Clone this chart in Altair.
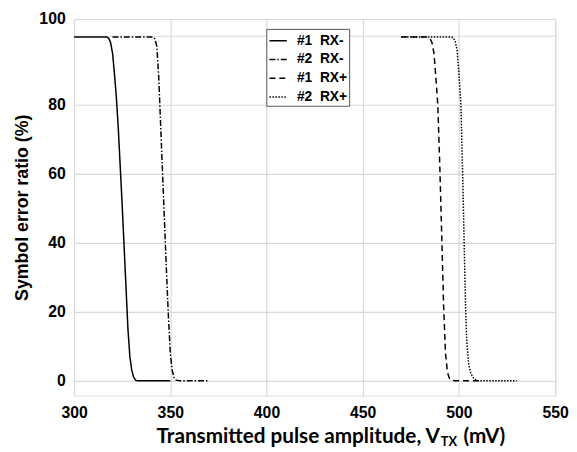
import altair as alt
import pandas as pd

PAD = "\u00a0\u00a0\u00a0"
S1 = "#1\u00a0\u00a0RX-" + PAD
S2 = "#2\u00a0\u00a0RX-" + PAD
S3 = "#1\u00a0\u00a0RX+" + PAD
S4 = "#2\u00a0\u00a0RX+" + PAD

x_rx1_minus = [300, 317, 318, 319, 320, 321, 322, 323, 324, 325, 326, 327, 328, 329, 330, 331, 332, 333, 350]
y_rx1_minus = [99.7, 99.7, 99.3, 98, 95, 89, 82, 73, 62, 51, 39, 27, 15, 7, 3, 1, 0.2, 0, 0]

x_rx2_minus = [320, 341, 342, 343, 344, 345, 346, 347, 348, 349, 350, 351, 352, 353, 355, 370]
y_rx2_minus = [99.7, 99.7, 99.2, 97, 88, 74, 60, 46, 32, 19, 8, 3, 0.8, 0.2, 0, 0]

x_rx1_plus = [470, 483, 485, 486, 487, 488, 489, 490, 491, 492, 493, 494, 495, 496, 498, 510]
y_rx1_plus = [99.7, 99.7, 99.2, 98, 95, 88, 80, 63, 43, 22, 8, 2.5, 0.8, 0.2, 0, 0]

x_rx2_plus = [470, 496, 497, 498, 499, 500, 501, 502, 503, 503.5, 504, 505, 506, 507, 508, 510, 530]
y_rx2_plus = [99.7, 99.7, 99.5, 98.5, 96, 89, 80, 58, 32, 20, 12, 5, 2.5, 1.2, 0.5, 0, 0]

series_order = [S1, S2, S3, S4]
dashes = [[1, 0], [6, 2, 1.5, 2], [6, 4], [1.5, 1.5]]

rows = []
for name, xs, ys in [(S1, x_rx1_minus, y_rx1_minus), (S2, x_rx2_minus, y_rx2_minus),
                     (S3, x_rx1_plus, y_rx1_plus), (S4, x_rx2_plus, y_rx2_plus)]:
    for a, b in zip(xs, ys):
        rows.append({"v": a, "ser": b, "series": name})
df = pd.DataFrame(rows)

y_ticks = [0, 20, 40, 60, 80, 100, 104.9]

lines = alt.Chart(df).mark_line(color="black", strokeWidth=1.5, clip=True).encode(
    x=alt.X("v:Q", scale=alt.Scale(domain=[300, 550], nice=False, zero=False),
            axis=alt.Axis(values=[300, 350, 400, 450, 500, 550], title=None, ticks=False,
                          labelPadding=9, labelFont="Liberation Sans", labelFontWeight="bold",
                          labelFontSize=16, labelColor="black", gridColor="#d9d9d9",
                          gridWidth=1.2, domain=False, labelFlush=False)),
    y=alt.Y("ser:Q", scale=alt.Scale(domain=[-4.3, 104.9], nice=False, zero=False),
            axis=alt.Axis(values=y_ticks, title="Symbol error ratio (%)", ticks=False,
                          labelExpr="datum.value > 101 ? '100' : (datum.value == 100 ? '' : datum.label)",
                          labelPadding=9, labelFont="Liberation Sans", labelFontWeight="bold",
                          labelFontSize=16, labelColor="black", gridColor="#d9d9d9",
                          gridWidth=1.2,
                          titleFont="Liberation Sans", titleFontWeight="bold", titleFontSize=18,
                          titleColor="black", titlePadding=8, domain=False, labelFlush=False)),
    strokeDash=alt.StrokeDash("series:N",
                              scale=alt.Scale(domain=series_order, range=dashes),
                              sort=series_order,
                              legend=alt.Legend(title=None, orient="none", legendX=195, legendY=10,
                                                symbolType="stroke", symbolSize=310,
                                                symbolStrokeWidth=1.5, symbolStrokeColor="black",
                                                labelFont="Liberation Sans", labelFontWeight="bold",
                                                labelFontSize=14, labelColor="black",
                                                fillColor="white", strokeColor="#555555",
                                                padding=2, rowPadding=2, labelOffset=9)),
)

t1 = alt.Chart(pd.DataFrame({"t": ["Transmitted pulse amplitude, V"]})).mark_text(
    align="right", baseline="alphabetic", font="Lato", fontWeight="bold", fontSize=21,
    color="black").encode(text="t:N", x=alt.value(371), y=alt.value(430))
t2 = alt.Chart(pd.DataFrame({"t": ["TX"]})).mark_text(
    align="left", baseline="alphabetic", font="Lato", fontWeight="bold", fontSize=13,
    color="black").encode(text="t:N", x=alt.value(372), y=alt.value(433))
t3 = alt.Chart(pd.DataFrame({"t": ["(mV)"]})).mark_text(
    align="left", baseline="alphabetic", font="Lato", fontWeight="bold", fontSize=21,
    color="black").encode(text="t:N", x=alt.value(395), y=alt.value(430))

chart = alt.layer(lines, t1, t2, t3).properties(
    width=488, height=382,
    padding={"left": 67, "top": 8, "right": 14, "bottom": 54},
    autosize=alt.AutoSizeParams(type="none"),
).configure_view(stroke="#333333", strokeWidth=1.5).configure(background="white")

chart.save("out.html", embed_options={"renderer": "svg", "actions": False})
